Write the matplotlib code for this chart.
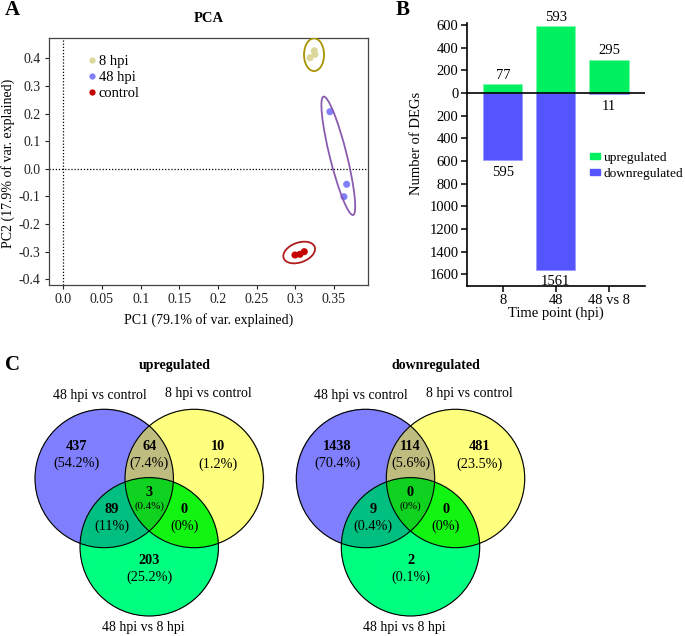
import numpy as np
import matplotlib
matplotlib.use("Agg")
import matplotlib.pyplot as plt
from matplotlib.patches import Ellipse, Circle, Patch
from matplotlib.lines import Line2D
from matplotlib.transforms import ScaledTranslation

plt.rcParams['font.family'] = ['Liberation Serif', 'DejaVu Serif']
plt.rcParams['axes.unicode_minus'] = False

# ---------------- data ----------------
pca_groups = ['8 hpi', '48 hpi', 'control']
pca_colors = ['#dcd89c', '#8080ff', '#c40000']
ell_colors = ['#a89400', '#8a5cb0', '#b01c1c']
pc1_8 = [0.319, 0.3245, 0.3254]
pc2_8 = [0.402, 0.4275, 0.4145]
pc1_48 = [0.3448, 0.3664, 0.3629]
pc2_48 = [0.2067, -0.0561, -0.101]
pc1_ct = [0.2996, 0.306, 0.3116]
pc2_ct = [-0.312, -0.3095, -0.300]
# ellipse: centre (data), width/height (inches), angle (deg)
ell_center = [(0.3242, 0.413), (0.3556, 0.0471), (0.305, -0.303)]
ell_size = [(0.20, 0.327, 0), (1.22, 0.17, 104), (0.33, 0.197, 20)]

time_points = ['8', '48', '48 vs 8']
up_counts = [77, 593, 295]
down_counts = [595, 1561, 11]

venn_sets = ['48 hpi vs control', '8 hpi vs control', '48 hpi vs 8 hpi']
# order: A only, B only, C only, AB, AC, BC, ABC
venn_up_counts = [437, 10, 203, 64, 89, 0, 3]
venn_up_pct = ['54.2%', '1.2%', '25.2%', '7.4%', '11%', '0%', '0.4%']
venn_down_counts = [1438, 481, 2, 114, 9, 0, 0]
venn_down_pct = ['70.4%', '23.5%', '0.1%', '5.6%', '0.4%', '0%', '0%']

W, H = 685, 636
fig = plt.figure(figsize=(W / 100, H / 100), dpi=100)
FS = 10


def px_rect(l, t, r, b):
    return [l / W, 1 - b / H, (r - l) / W, (b - t) / H]


def ftxt(x, y, s, **kw):
    kw.setdefault('ha', 'center')
    kw.setdefault('va', 'center')
    fig.text(x / W, 1 - y / H, s, **kw)


# ---------------- Panel A: PCA ----------------
ax = fig.add_axes(px_rect(49, 38, 368, 285))
ax.set_xlim(-0.0185, 0.394)
ax.set_ylim(-0.4206, 0.4735)
ax.axvline(0, color='black', lw=0.9, ls=(0, (1, 1.5)))
ax.axhline(0, color='black', lw=0.9, ls=(0, (1, 1.5)))
xs = [pc1_8, pc1_48, pc1_ct]
ys = [pc2_8, pc2_48, pc2_ct]
for g, c, x, y in zip(pca_groups, pca_colors, xs, ys):
    ax.scatter(x, y, s=26, color=c, edgecolor='none', zorder=3)
for (cx, cy), (w, h, a), ec in zip(ell_center, ell_size, ell_colors):
    tr = fig.dpi_scale_trans + ScaledTranslation(cx, cy, ax.transData)
    ax.add_patch(Ellipse((0, 0), w, h, angle=a, transform=tr, fill=False,
                         ec=ec, lw=1.3, zorder=4))
xt = [0.0, 0.05, 0.1, 0.15, 0.2, 0.25, 0.3, 0.35]
ax.set_xticks(xt)
ax.set_xticklabels(['0.0', '0.05', '0.1', '0.15', '0.2', '0.25', '0.3', '0.35'])
yt = [0.4, 0.3, 0.2, 0.1, 0.0, -0.1, -0.2, -0.3, -0.4]
ax.set_yticks(yt)
ax.set_yticklabels(['%.1f' % v for v in yt])
ax.tick_params(labelsize=10, length=3, width=0.8, pad=3, colors='#222222')
for s in ax.spines.values():
    s.set_color('#444444')
    s.set_linewidth(0.9)
handles = [Line2D([], [], ls='none', marker='o', ms=4.5, mfc=c, mec='none') for c in pca_colors]
ax.legend(handles, pca_groups, loc='upper left', bbox_to_anchor=(0.122, 0.93),
          frameon=False, fontsize=10.5, borderpad=0, borderaxespad=0,
          handlelength=0.6, handletextpad=0.15, labelspacing=0.18)
ftxt(208.5, 18, 'PCA', fontsize=10.5, fontweight='bold')
ftxt(208.5, 320, 'PC1 (79.1% of var. explained)', fontsize=FS)
ftxt(8, 163, 'PC2 (17.9% of var. explained)', fontsize=FS, rotation=90)

# ---------------- Panel B: DEGs bars ----------------
bx = fig.add_axes(px_rect(466.7, 23.3, 645, 286))
xpos = np.arange(len(time_points))
bx.bar(xpos, up_counts, width=0.74, color='#00f060', edgecolor='#80f8b0', lw=0.6, zorder=2)
bx.bar(xpos, [-d for d in down_counts], width=0.74, color='#5555ff', edgecolor='#9a9aff', lw=0.6, zorder=2)
bx.axhline(0, color='black', lw=1.2, zorder=3)
for x, u, d in zip(xpos, up_counts, down_counts):
    bx.annotate(str(u), (x, u), xytext=(0, 1.5), textcoords='offset points',
                ha='center', va='bottom', fontsize=10.5)
    bx.annotate(str(d), (x, -d), xytext=(0, -4), textcoords='offset points',
                ha='center', va='top', fontsize=10.5)
bx.set_xlim(-0.68, 2.68)
bx.set_ylim(-1703, 615)
yt = np.arange(600, -1601, -200)
bx.set_yticks(yt)
bx.set_yticklabels([str(abs(v)) for v in yt])
bx.set_xticks(xpos)
bx.set_xticklabels(time_points)
bx.spines['top'].set_visible(False)
bx.spines['right'].set_visible(False)
for s in ['left', 'bottom']:
    bx.spines[s].set_linewidth(1.2)
bx.tick_params(labelsize=10.5, length=4, width=1.1, pad=2)
bx.legend([Patch(color='#00f060'), Patch(color='#5555ff')],
          ['upregulated', 'downregulated'], loc='upper left',
          bbox_to_anchor=((590 - 466.7) / 178.3, 1 - (152 - 23.3) / 262.7),
          frameon=False, fontsize=9.6, borderpad=0, borderaxespad=0,
          handlelength=0.75, handleheight=0.35, handletextpad=0.3, labelspacing=0.3)
ftxt(416.7, 143, 'Number of DEGs', fontsize=10.5, rotation=90)
ftxt(556, 313, 'Time point (hpi)', fontsize=10.5)

# ---------------- Panel C: Venn diagrams ----------------
vx = fig.add_axes([0, 0, 1, 1], zorder=-1)
vx.set_xlim(0, W)
vx.set_ylim(H, 0)
vx.axis('off')

R = 69.2
DX, DY = 45.0, 68.3
region_cols = {
    (1, 0, 0): '#7f7fff', (0, 1, 0): '#ffff7f', (0, 0, 1): '#00ff80',
    (1, 1, 0): '#bfbd7f', (1, 0, 1): '#00bf80', (0, 1, 1): '#12f512',
    (1, 1, 1): '#10d220',
}
# label anchors (px offsets from venn origin), same order as counts
anchors = [(-72.9, -23.8), (69.1, -23.2), (0, 90.7), (0, -24), (-37.5, 39.2), (35.1, 39.2), (0, 20.8)]


def draw_venn(ox, oy, counts, pcts, title):
    centers = [(ox - DX, oy), (ox + DX, oy), (ox, oy + DY)]
    x0, x1 = ox - DX - R - 2, ox + DX + R + 2
    y0, y1 = oy - R - 2, oy + DY + R + 2
    nx, ny = int((x1 - x0) * 4), int((y1 - y0) * 4)
    gx = x0 + (np.arange(nx) + 0.5) * (x1 - x0) / nx
    gy = y0 + (np.arange(ny) + 0.5) * (y1 - y0) / ny
    XX, YY = np.meshgrid(gx, gy)
    masks = [((XX - cx) ** 2 + (YY - cy) ** 2) <= R ** 2 for cx, cy in centers]
    img = np.zeros((ny, nx, 4))
    for key, col in region_cols.items():
        m = np.ones_like(XX, dtype=bool)
        for k, mk in zip(key, masks):
            m &= mk if k else ~mk
        img[m] = matplotlib.colors.to_rgba(col)
    vx.imshow(img, extent=(x0, x1, y1, y0), origin='upper', interpolation='antialiased', zorder=1)
    for cx, cy in centers:
        vx.add_patch(Circle((cx, cy), R, fill=False, ec='black', lw=0.8, zorder=2))
    vx.set_xlim(0, W)
    vx.set_ylim(H, 0)
    for i, ((ax_, ay_), c, p) in enumerate(zip(anchors, counts, pcts)):
        gap = 6.6 if i == 6 else 8.5
        vx.text(ox + ax_, oy + ay_ - gap, str(c), ha='center', va='center',
                fontsize=FS + 0.3, fontweight='bold', zorder=3)
        vx.text(ox + ax_, oy + ay_ + gap, '(%s)' % p, ha='center', va='center',
                fontsize=7.8 if i == 6 else FS + 0.3, zorder=3)
    vx.text(ox - 49.2, oy - 83.5, venn_sets[0], ha='center', va='center', fontsize=FS)
    vx.text(ox + 59.1, oy - 85.2, venn_sets[1], ha='center', va='center', fontsize=FS)
    vx.text(ox - 5.9, oy + 148.8, venn_sets[2], ha='center', va='center', fontsize=FS)
    vx.text(ox + 25.8, oy - 112.5, title, ha='center', va='center', fontsize=FS, fontweight='bold')


draw_venn(149.2, 478.5, venn_up_counts, venn_up_pct, 'upregulated')
draw_venn(410.5, 478.5, venn_down_counts, venn_down_pct, 'downregulated')

# panel letters
ftxt(12.5, 10, 'A', fontsize=15, fontweight='bold')
ftxt(402.5, 10, 'B', fontsize=15, fontweight='bold')
ftxt(12.5, 365.5, 'C', fontsize=15, fontweight='bold')

fig.savefig('out.png', dpi=100)
